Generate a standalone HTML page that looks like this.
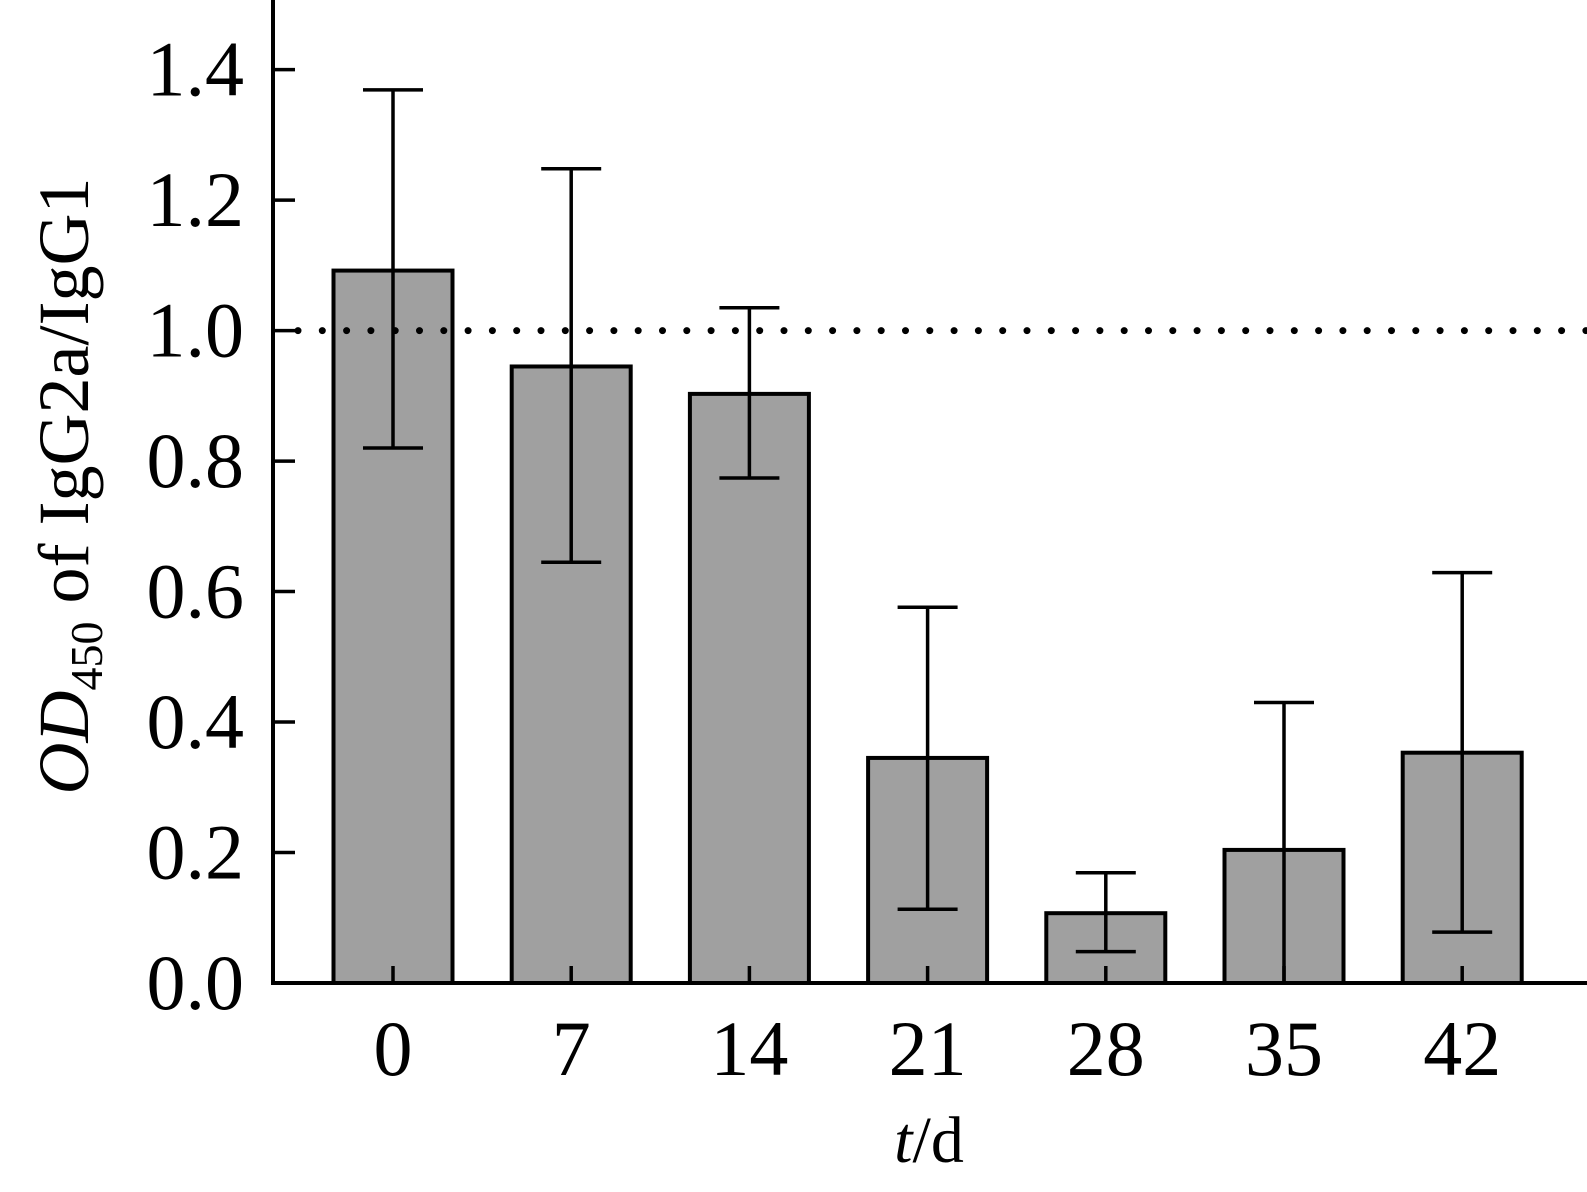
<!DOCTYPE html>
<html><head><meta charset="utf-8"><style>
html,body{margin:0;padding:0;background:#fff;}
svg{display:block;font-family:"Liberation Serif",serif;}
</style></head><body>
<svg id="chart" width="1587" height="1192" viewBox="0 0 1587 1192" xmlns="http://www.w3.org/2000/svg">
<g id="marks"></g>
<text x="929" y="1162" font-size="66" text-anchor="middle"><tspan font-style="italic">t</tspan>/d</text>
<text transform="translate(88,486) rotate(-90)" font-size="72" text-anchor="middle"><tspan font-style="italic">OD</tspan><tspan font-size="46" dy="14">450</tspan><tspan dy="-14"> of IgG2a/IgG1</tspan></text>
</svg>
<script>
const categories = ["0","7","14","21","28","35","42"];
const values = [1.092,0.945,0.903,0.345,0.107,0.204,0.353];
const errUpper = [1.369,1.248,1.035,0.576,0.169,0.430,0.629];
const errLower = [0.820,0.645,0.774,0.113,0.048,-0.02,0.078];
const yTicks = [0,0.2,0.4,0.6,0.8,1.0,1.2,1.4];
const yTickLabels = ["0.0","0.2","0.4","0.6","0.8","1.0","1.2","1.4"];
const refLine = 1.0;

const NS="http://www.w3.org/2000/svg";
const g=document.getElementById('marks');
const y0=983, unit=652.4, axisX=273, x0=393, step=178.2, barW=119, cap=60;
function yScale(v){return y0-v*unit;}
function xScale(i){return x0+i*step;}
function el(tag,attrs){const e=document.createElementNS(NS,tag);for(const k in attrs)e.setAttribute(k,attrs[k]);g.appendChild(e);return e;}

categories.forEach((c,i)=>{
  const cx=xScale(i), top=yScale(values[i]);
  const b=el('rect',{x:cx-barW/2,y:top,width:barW,height:y0-top,fill:'#a0a0a0',stroke:'#000','stroke-width':4});
  
  
  const lo=Math.max(errLower[i],0), hi=errUpper[i];
  const v=el('line',{x1:cx,x2:cx,y1:yScale(lo),y2:yScale(hi),stroke:'#000','stroke-width':3.5});
  
  
  const t=el('line',{x1:cx-cap/2,x2:cx+cap/2,y1:yScale(hi),y2:yScale(hi),stroke:'#000','stroke-width':3.5});
  
  
  if(errLower[i]>0){
    const l=el('line',{x1:cx-cap/2,x2:cx+cap/2,y1:yScale(lo),y2:yScale(lo),stroke:'#000','stroke-width':3.5});
    
    
  }
  const tk=el('line',{x1:cx,x2:cx,y1:y0,y2:y0-17,stroke:'#000','stroke-width':3.5});
  
  
  const lb=el('text',{x:cx,y:1075,'font-size':78,'text-anchor':'middle'});
  lb.textContent=c;
  
  
});
yTicks.forEach((v,i)=>{
  const y=yScale(v);
  const tk=el('line',{x1:axisX,x2:axisX+22,y1:y,y2:y,stroke:'#000','stroke-width':3.5});
  
  
  const lb=el('text',{x:244,y:y+26,'font-size':78,'text-anchor':'end'});
  lb.textContent=yTickLabels[i];
  
  
});
const ref=el('line',{x1:298,x2:1587,y1:yScale(refLine),y2:yScale(refLine),stroke:'#000','stroke-width':7,'stroke-linecap':'round','stroke-dasharray':'0 24.3'});


const ya=el('line',{x1:axisX,x2:axisX,y1:0,y2:y0+2,stroke:'#000','stroke-width':4});


const xa=el('line',{x1:axisX-2,x2:1587,y1:y0,y2:y0,stroke:'#000','stroke-width':4});


</script>
</body></html>
